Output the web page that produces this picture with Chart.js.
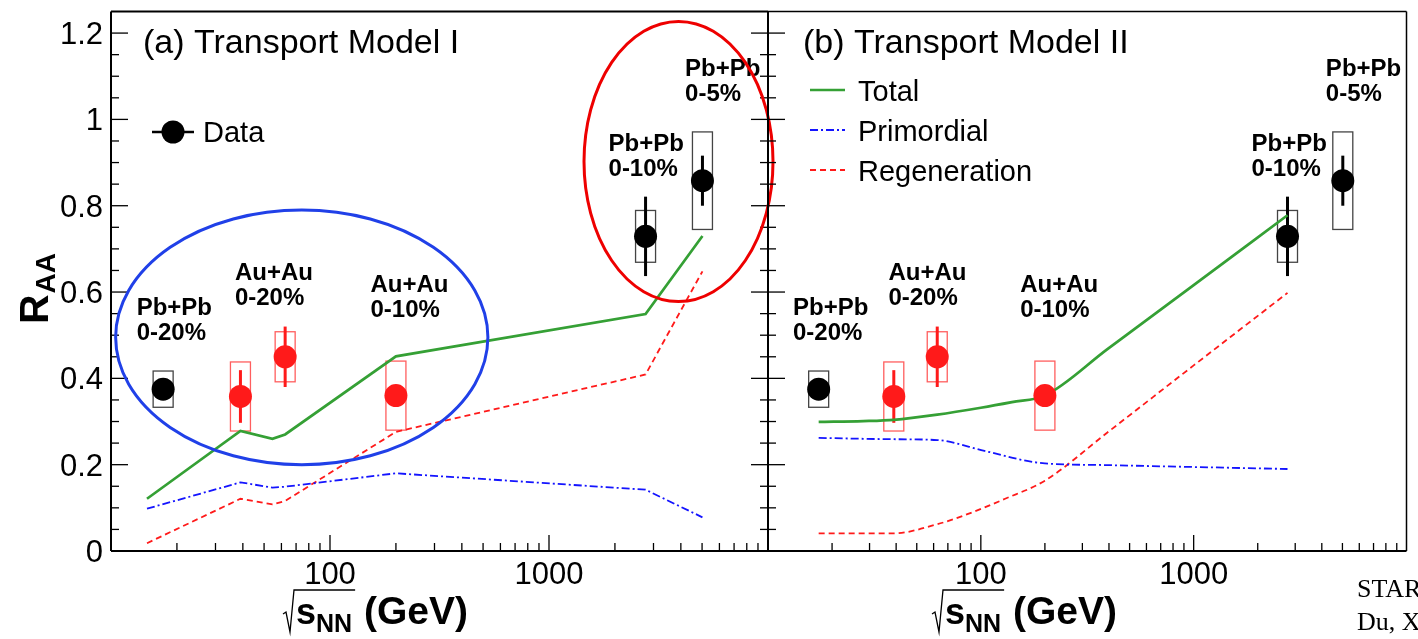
<!DOCTYPE html>
<html>
<head>
<meta charset="utf-8">
<script src="https://cdn.jsdelivr.net/npm/chart.js@4.4.1/dist/chart.umd.min.js"></script>
<style>
  html, body { margin: 0; padding: 0; background: #fff; }
  #wrap { position: relative; width: 1418px; height: 639px; overflow: hidden; }
  canvas { position: absolute; left: 0; top: 0; }
</style>
</head>
<body>
<div id="wrap">
  <canvas id="panelA" width="1418" height="639"></canvas>
  <canvas id="panelB" width="1418" height="639"></canvas>
</div>
<script>
// axis ranges and tick labels
const xMin = 10, xMax = 10000, yMin = 0, yMax = 1.25;
const xTickValues = [100, 1000];
const xTickLabels = ['100', '1000'];
const yTickValues = [0, 0.2, 0.4, 0.6, 0.8, 1, 1.2];
const yTickLabels = ['0', '0.2', '0.4', '0.6', '0.8', '1', '1.2'];

// measured J/psi R_AA, Pb+Pb (SPS, LHC)
const pbEnergy = [17.3, 2760, 5020];
const pbRaa = [0.375, 0.729, 0.858];
const pbStat = [0.02, 0.092, 0.058];
const pbSys = [0.042, 0.06, 0.113];
// measured J/psi R_AA, Au+Au (STAR)
const auEnergy = [39, 62.4, 200];
const auRaa = [0.358, 0.45, 0.36];
const auStat = [0.061, 0.07, 0.015];
const auSys = [0.08, 0.058, 0.08];

// Transport Model I
const m1Energy = [14.6, 39, 54.6, 62.4, 200, 2760, 5020];
const m1Total = [0.121, 0.278, 0.26, 0.27, 0.451, 0.549, 0.73];
const m1Primordial = [0.098, 0.159, 0.147, 0.149, 0.18, 0.142, 0.078];
const m1Regeneration = [0.018, 0.121, 0.108, 0.116, 0.276, 0.409, 0.648];

// Transport Model II
const m2TotalEnergy = [17.3, 28, 39, 62.4, 100, 140, 200, 392, 1000, 2760];
const m2Total = [0.299, 0.301, 0.304, 0.316, 0.332, 0.345, 0.36, 0.467, 0.616, 0.778];
const m2PrimEnergy = [17.3, 39, 62.4, 104, 160, 200, 392, 2760];
const m2Primordial = [0.262, 0.259, 0.257, 0.232, 0.21, 0.203, 0.199, 0.19];
const m2RegEnergy = [17.3, 39, 62.4, 84, 130, 200, 392, 1000, 2760];
const m2Regeneration = [0.041, 0.041, 0.062, 0.083, 0.121, 0.163, 0.274, 0.43, 0.598];

// collision system labels, anchored at [energy, R_AA] of the first line
const sysLabelAt = [[13.1, 0.546], [36.8, 0.628], [153, 0.601], [1870, 0.927], [4180, 1.1]];
const sysLabelText = [['Pb+Pb', '0-20%'], ['Au+Au', '0-20%'], ['Au+Au', '0-10%'], ['Pb+Pb', '0-10%'], ['Pb+Pb', '0-5%']];

// highlight ellipses on panel (a): [xLo, xHi] GeV, [yLo, yHi]
const blueEllipse = [[10.5, 526], [0.2, 0.79]];
const redEllipse = [[1445, 10540], [0.578, 1.227]];

const FONT = '"Liberation Sans", Arial, Helvetica, sans-serif';
const GREEN = '#35a035', BLUE = '#1414ff', RED = '#ff1a1a';

function pts(xs, ys) {
  return xs.map((x, i) => ({ x: x, y: ys[i] }));
}

function text(ctx, s, x, y, font, color, align) {
  ctx.font = font;
  ctx.fillStyle = color || '#000';
  ctx.textAlign = align || 'left';
  ctx.textBaseline = 'alphabetic';
  ctx.fillText(s, x, y);
}

function line(ctx, x1, y1, x2, y2) {
  ctx.beginPath();
  ctx.moveTo(x1, y1);
  ctx.lineTo(x2, y2);
  ctx.stroke();
}

function drawErrors(chart) {
  const ctx = chart.ctx;
  const xs = chart.scales.x, ys = chart.scales.y;
  ctx.save();
  chart.data.datasets.forEach(ds => {
    if (!ds.sysErr) return;
    ds.data.forEach((p, i) => {
      const px = xs.getPixelForValue(p.x);
      const yHi = ys.getPixelForValue(p.y + ds.sysErr[i]);
      const yLo = ys.getPixelForValue(p.y - ds.sysErr[i]);
      ctx.strokeStyle = ds.boxColor;
      ctx.lineWidth = 1.3;
      ctx.setLineDash([]);
      ctx.strokeRect(px - 10, yHi, 20, yLo - yHi);
      ctx.strokeStyle = ds.pointBackgroundColor;
      ctx.lineWidth = 3;
      line(ctx, px, ys.getPixelForValue(p.y + ds.statErr[i]), px, ys.getPixelForValue(p.y - ds.statErr[i]));
    });
  });
  ctx.restore();
}

function drawEllipse(ctx, xs, ys, e, color) {
  const x1 = xs.getPixelForValue(e[0][0]), x2 = xs.getPixelForValue(e[0][1]);
  const y1 = ys.getPixelForValue(e[1][0]), y2 = ys.getPixelForValue(e[1][1]);
  ctx.strokeStyle = color;
  ctx.lineWidth = 3;
  ctx.setLineDash([]);
  ctx.beginPath();
  ctx.ellipse((x1 + x2) / 2, (y1 + y2) / 2, Math.abs(x2 - x1) / 2, Math.abs(y2 - y1) / 2, 0, 0, Math.PI * 2);
  ctx.stroke();
}

function drawXTitle(ctx, x0, base) {
  ctx.strokeStyle = '#000';
  ctx.lineWidth = 1.3;
  ctx.font = 'bold 36px ' + FONT;
  const wS = ctx.measureText('s').width;
  ctx.font = 'bold 25px ' + FONT;
  const wN = ctx.measureText('NN').width;
  const top = base - 34;
  ctx.beginPath();
  ctx.moveTo(x0, base - 10);
  ctx.lineTo(x0 + 3, base - 12);
  ctx.lineTo(x0 + 7, base + 8);
  ctx.lineTo(x0 + 11, top);
  ctx.lineTo(x0 + 14 + wS + wN + 2, top);
  ctx.stroke();
  text(ctx, 's', x0 + 13, base, 'bold 36px ' + FONT);
  text(ctx, 'NN', x0 + 13 + wS, base + 8, 'bold 25px ' + FONT);
  text(ctx, ' (GeV)', x0 + 14 + wS + wN, base, 'bold 39px ' + FONT);
}

function panelPlugin(cfg) {
  return {
    id: 'panel' + cfg.name,
    beforeDatasetsDraw(chart) {
      drawErrors(chart);
    },
    afterDatasetsDraw(chart) {
      const ctx = chart.ctx;
      const xs = chart.scales.x, ys = chart.scales.y;
      const { left, right, top, bottom } = chart.chartArea;
      ctx.save();

      // frame
      ctx.strokeStyle = '#000';
      ctx.setLineDash([]);
      ctx.lineWidth = 2;
      line(ctx, left, top, left, bottom);
      line(ctx, left, bottom, right, bottom);
      ctx.lineWidth = cfg.name === 'a' ? 2 : 1.5;
      line(ctx, left, top, right, top);
      line(ctx, right, top, right, bottom);

      // x ticks (log decades)
      ctx.lineWidth = 1.3;
      for (let d = 10; d < xMax; d *= 10) {
        for (let m = 1; m < 10; m++) {
          const v = d * m;
          if (v <= xMin || v >= xMax) continue;
          const px = xs.getPixelForValue(v);
          line(ctx, px, bottom, px, bottom - (m === 1 ? 16 : 8));
        }
      }
      // y ticks
      for (let k = 1; k * 0.05 < yMax - 1e-6; k++) {
        const py = ys.getPixelForValue(k * 0.05);
        const len = k % 4 === 0 ? 17 : 8;
        line(ctx, left, py, left + len, py);
        if (cfg.rightTicks) line(ctx, right, py, right - len, py);
      }

      // tick labels
      xTickValues.forEach((v, i) => {
        text(ctx, xTickLabels[i], xs.getPixelForValue(v), bottom + 33, '31px ' + FONT, '#000', 'center');
      });
      if (cfg.yLabels) {
        yTickValues.forEach((v, i) => {
          text(ctx, yTickLabels[i], left - 8, ys.getPixelForValue(v) + 11, '31px ' + FONT, '#000', 'right');
        });
        // y title R_AA
        ctx.save();
        ctx.translate(48, 324);
        ctx.rotate(-Math.PI / 2);
        text(ctx, 'R', 0, 0, 'bold 41px ' + FONT);
        ctx.font = 'bold 41px ' + FONT;
        const wR = ctx.measureText('R').width;
        text(ctx, 'AA', wR + 1, 7, 'bold 28px ' + FONT);
        ctx.restore();
      }
      drawXTitle(ctx, left + cfg.titleShift, bottom + 73);

      // panel title
      text(ctx, cfg.title, left + cfg.titleX, top + 41, '34px ' + FONT);

      // collision system labels
      sysLabelAt.forEach((a, i) => {
        const px = xs.getPixelForValue(a[0]), py = ys.getPixelForValue(a[1]);
        text(ctx, sysLabelText[i][0], px, py, 'bold 24px ' + FONT);
        text(ctx, sysLabelText[i][1], px, py + 25, 'bold 24px ' + FONT);
      });

      // legends
      if (cfg.name === 'a') {
        ctx.strokeStyle = '#000';
        ctx.lineWidth = 2.5;
        line(ctx, left + 41, 132, left + 83, 132);
        ctx.fillStyle = '#000';
        ctx.beginPath();
        ctx.arc(left + 62, 132, 11.5, 0, Math.PI * 2);
        ctx.fill();
        text(ctx, 'Data', left + 92, 142, '29px ' + FONT);
        drawEllipse(ctx, xs, ys, blueEllipse, '#2040e8');
        drawEllipse(ctx, xs, ys, redEllipse, '#ee0000');
      } else {
        const items = [['Total', GREEN, [], 2.5], ['Primordial', BLUE, [8, 3, 2, 3], 1.8], ['Regeneration', RED, [6, 4], 1.8]];
        items.forEach((it, i) => {
          const y = 90 + i * 40;
          ctx.strokeStyle = it[1];
          ctx.lineWidth = it[3];
          ctx.setLineDash(it[2]);
          line(ctx, left + 42, y, left + 77, y);
          ctx.setLineDash([]);
          text(ctx, it[0], left + 90, y + 11, '29px ' + FONT);
        });
        // credit text at bottom right, cut by the page edge
        text(ctx, 'STAR', 1357, 597, '26px "Liberation Serif", "Times New Roman", serif');
        text(ctx, 'Du, X', 1357, 630, '26px "Liberation Serif", "Times New Roman", serif');
      }
      ctx.restore();
    }
  };
}

function dataSets(model) {
  const sets = [
    {
      data: pts(pbEnergy, pbRaa), showLine: false, pointRadius: 11.5, pointBorderWidth: 0,
      pointBackgroundColor: '#000', borderColor: '#000', boxColor: '#444',
      statErr: pbStat, sysErr: pbSys, order: 0
    },
    {
      data: pts(auEnergy, auRaa), showLine: false, pointRadius: 11.5, pointBorderWidth: 0,
      pointBackgroundColor: RED, borderColor: RED, boxColor: 'rgba(255,40,40,0.75)',
      statErr: auStat, sysErr: auSys, order: 0
    }
  ];
  const curve = (data, color, dash, width) => ({
    data: data, borderColor: color, borderDash: dash, borderWidth: width, pointRadius: 0,
    fill: false, order: 1, tension: 0,
    cubicInterpolationMode: model === 2 ? 'monotone' : 'default'
  });
  if (model === 1) {
    sets.push(curve(pts(m1Energy, m1Total), GREEN, [], 2.7));
    sets.push(curve(pts(m1Energy, m1Primordial), BLUE, [8, 3, 2, 3], 1.8));
    sets.push(curve(pts(m1Energy, m1Regeneration), RED, [6, 4], 1.8));
  } else {
    sets.push(curve(pts(m2TotalEnergy, m2Total), GREEN, [], 2.7));
    sets.push(curve(pts(m2PrimEnergy, m2Primordial), BLUE, [8, 3, 2, 3], 1.8));
    sets.push(curve(pts(m2RegEnergy, m2Regeneration), RED, [6, 4], 1.8));
  }
  return sets;
}

function makePanel(canvasId, model, padding, cfg) {
  return new Chart(document.getElementById(canvasId), {
    type: 'line',
    data: { datasets: dataSets(model) },
    options: {
      responsive: false,
      animation: false,
      devicePixelRatio: 1,
      layout: { padding: padding },
      plugins: { legend: { display: false }, tooltip: { enabled: false } },
      scales: {
        x: { type: 'logarithmic', min: xMin, max: xMax, display: false },
        y: { type: 'linear', min: yMin, max: yMax, display: false }
      }
    },
    plugins: [panelPlugin(cfg)]
  });
}

makePanel('panelA', 1, { left: 111, right: 650, top: 6, bottom: 88 },
  { name: 'a', title: '(a) Transport Model I', titleX: 32, titleShift: 172, yLabels: true, rightTicks: true });
makePanel('panelB', 2, { left: 768, right: 4, top: 6, bottom: 88 },
  { name: 'b', title: '(b) Transport Model II', titleX: 35, titleShift: 164, yLabels: false, rightTicks: false });
</script>
</body>
</html>
